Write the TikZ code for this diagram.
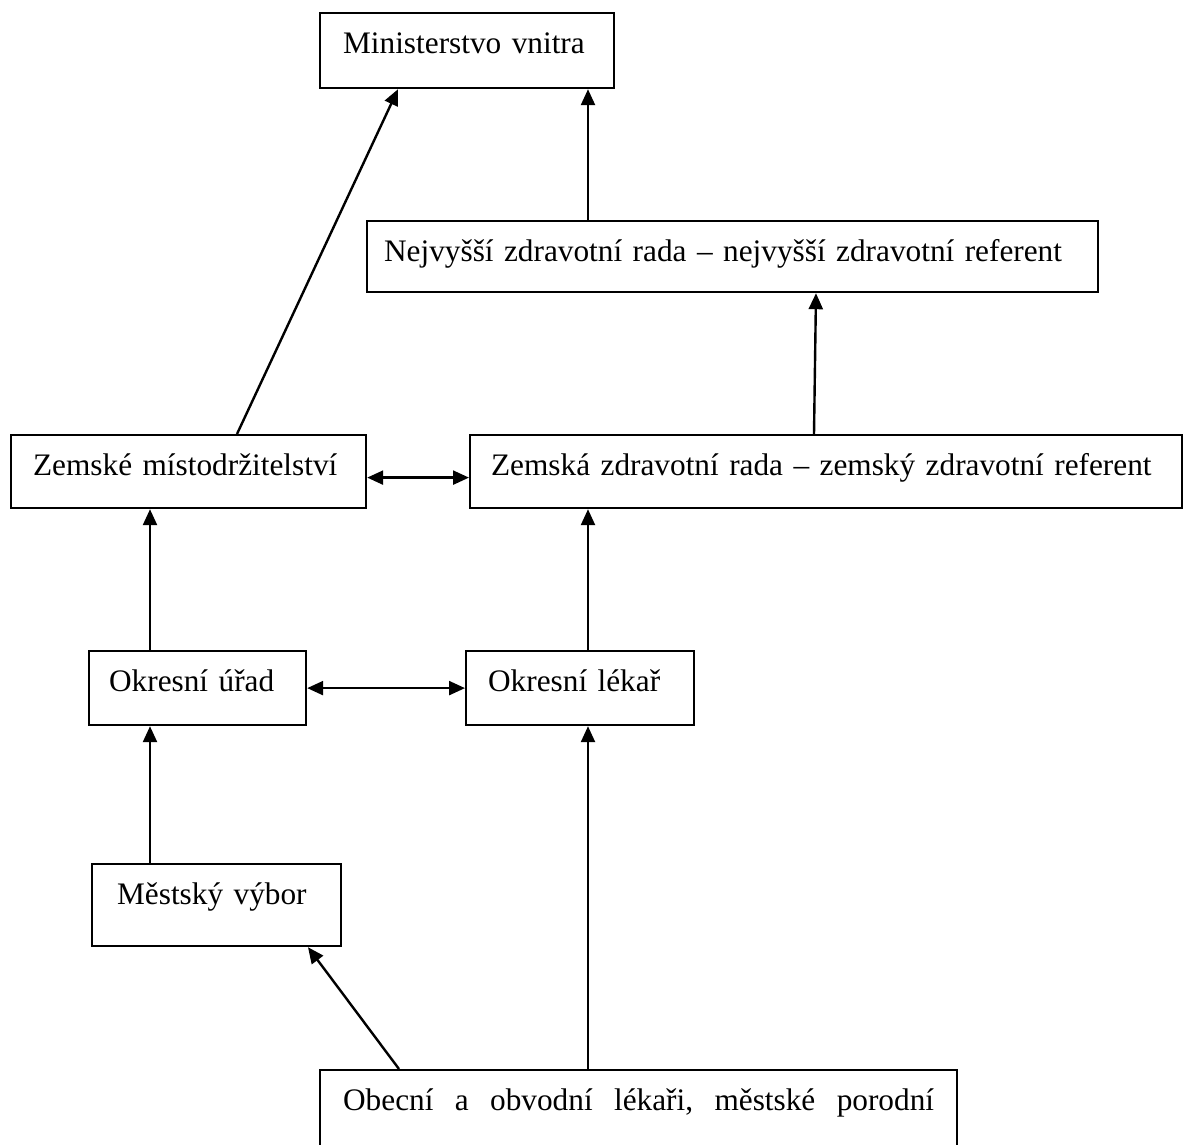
\documentclass[tikz,border=0pt]{standalone}
\usepackage{fontspec}
\setmainfont{Liberation Serif}
\usetikzlibrary{arrows.meta}

\begin{document}
\begin{tikzpicture}[x=1pt, y=-1pt, >={Triangle[length=16pt,width=14pt]},
    box/.style={draw, line width=2.2pt, anchor=north west, align=left,
      inner ysep=0pt, text height=40pt, font=\fontsize{31.3}{37}\selectfont},
    link/.style={line width=2.4pt}]
  \useasboundingbox (0,0) rectangle (1183,1144);
  \clip (0,0) rectangle (1183,1144);
  % boxes
  \node [box, inner xsep=23pt, text width=248pt, text depth=35pt] (min) at (319,12) {Ministerstvo vnitra};
  \node [box, inner xsep=17pt, text width=697pt, text depth=31pt] (nejv) at (366,220) {\mbox{Nejvyšší zdravotní rada – nejvyšší zdravotní referent}};
  \node [box, inner xsep=22pt, text width=311pt, text depth=33pt] (zemm) at (10,434) {\mbox{Zemské místodržitelství}};
  \node [box, inner xsep=21pt, text width=670pt, text depth=33pt] (zemz) at (469,434) {\mbox{Zemská zdravotní rada – zemský zdravotní referent}};
  \node [box, inner xsep=20pt, text width=177pt, text depth=34pt] (okru) at (88,650) {Okresní úřad};
  \node [box, inner xsep=22pt, text width=184pt, text depth=34pt] (okrl) at (465,650) {Okresní lékař};
  \node [box, inner xsep=25pt, text width=199pt, text depth=42pt] (mest) at (91,863) {Městský výbor};
  \node [box, inner xsep=23pt, text width=591pt, text depth=70pt] (obec) at (319,1069) {Obecní\hfill a\hfill obvodní\hfill lékaři,\hfill městské\hfill porodní};
  % arrows
  \coordinate (ax) at (588,0);
  \coordinate (al) at (150,0);
  \draw [link, ->] (nejv.north -| ax) -- (min.south -| ax);
  \draw [link, ->] ([xshift=227pt]zemm.north west) -- ([xshift=79pt]min.south west);
  \draw [link, ->] ([xshift=345pt]zemz.north west) -- ([xshift=450pt]nejv.south west);
  \draw [link, <->] ([yshift=-6pt]zemm.east) -- ([yshift=-6pt]zemz.west);
  \draw [link, ->] (okru.north -| al) -- (zemm.south -| al);
  \draw [link, ->] (okrl.north -| ax) -- (zemz.south -| ax);
  \draw [link, <->] (okru.east) -- (okrl.west);
  \draw [link, ->] (mest.north -| al) -- (okru.south -| al);
  \draw [link, ->] ([xshift=80pt]obec.north west) -- ([xshift=217pt]mest.south west);
  \draw [link, ->] (obec.north -| ax) -- (okrl.south -| ax);
\end{tikzpicture}
\end{document}
